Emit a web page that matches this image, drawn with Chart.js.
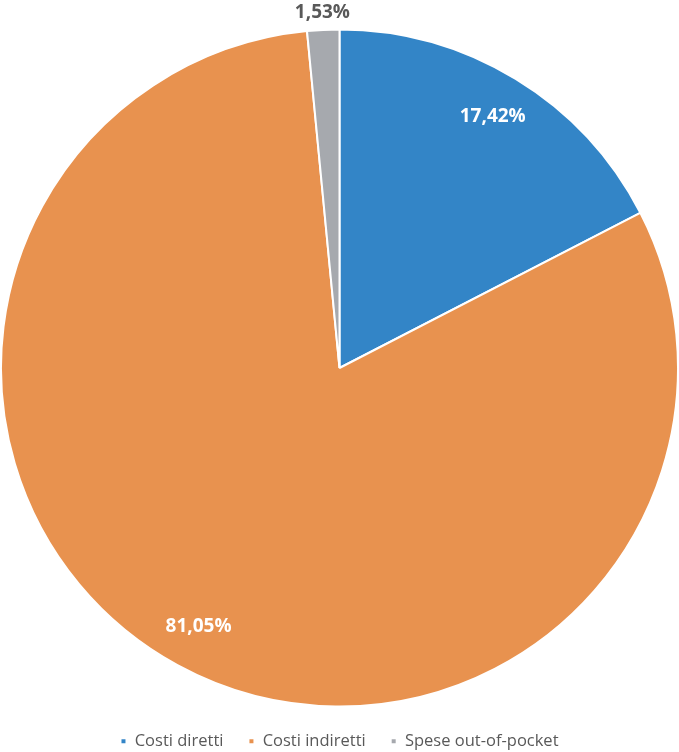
<!DOCTYPE html>
<html>
<head>
<meta charset="utf-8">
<script src="https://cdn.jsdelivr.net/npm/chart.js@4"></script>
<style>
  html, body { margin: 0; padding: 0; background: #fff; }
  #box { width: 679px; height: 752px; }
</style>
</head>
<body>
<div id="box"><canvas id="grafico"></canvas></div>
<script>
const categorie = ['Costi diretti', 'Costi indiretti', 'Spese out-of-pocket'];
const percentuali = [17.42, 81.05, 1.53];
const colori = ['#3385c7', '#e8924f', '#a6a9ae'];

// etichette con la percentuale (formato italiano)
const etichettePie = {
  id: 'etichettePie',
  beforeUpdate(chart) {
    // legenda più bassa senza rubare spazio alla torta
    const lg = chart.legend;
    if (lg && !lg._ritoccata) {
      const fit = lg.fit;
      lg.fit = function() {
        fit.call(this);
        this.height = 44;
      };
      lg._ritoccata = true;
    }
  },
  afterDatasetsDraw(chart) {
    const ctx = chart.ctx;
    const meta = chart.getDatasetMeta(0);
    ctx.save();
    ctx.font = 'bold 19px "Open Sans", sans-serif';
    ctx.textAlign = 'center';
    ctx.textBaseline = 'middle';
    meta.data.forEach((arc, i) => {
      const valore = percentuali[i];
      const testo = valore.toFixed(2).replace('.', ',') + '%';
      const ang = (arc.startAngle + arc.endAngle) / 2;
      let r, colore;
      if (valore < 5) {
        r = arc.outerRadius + 17;
        colore = '#595959';
      } else {
        r = arc.outerRadius * 0.87;
        colore = '#ffffff';
      }
      const x = arc.x + Math.cos(ang) * r;
      const y = arc.y + Math.sin(ang) * r;
      ctx.fillStyle = colore;
      ctx.fillText(testo, x, y);
    });
    ctx.restore();
  }
};

const ctx = document.getElementById('grafico').getContext('2d');
const grafico = new Chart(ctx, {
  type: 'pie',
  data: {
    labels: categorie,
    datasets: [{
      data: percentuali,
      backgroundColor: colori,
      borderColor: '#ffffff',
      borderWidth: 2
    }]
  },
  options: {
    animation: false,
    responsive: true,
    maintainAspectRatio: false,
    layout: { padding: { top: 28, bottom: 0, left: 0, right: 0 } },
    plugins: {
      legend: {
        position: 'bottom',
        labels: {
          boxWidth: 6,
          boxHeight: 6,
          padding: 25,
          color: '#595959',
          font: { family: '"Open Sans", sans-serif', size: 16.5 }
        }
      },
      tooltip: { enabled: false }
    }
  },
  plugins: [etichettePie]
});
</script>
</body>
</html>
